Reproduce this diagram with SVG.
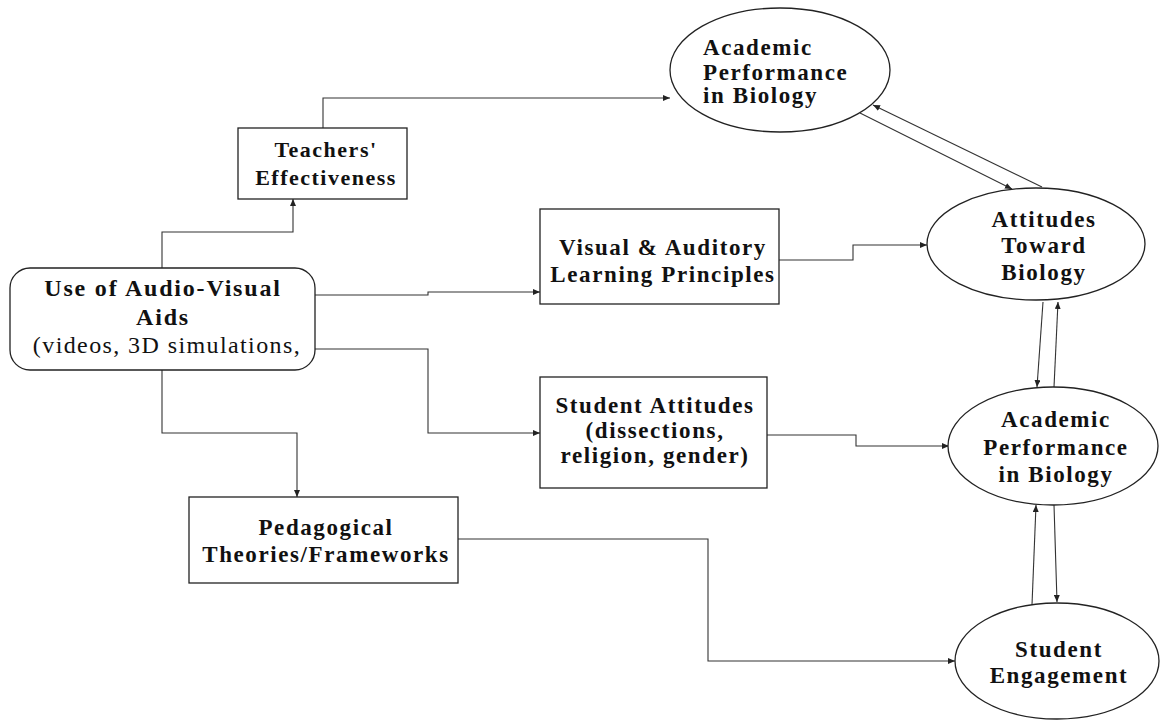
<svg xmlns="http://www.w3.org/2000/svg" width="1161" height="721" viewBox="0 0 1161 721">
<defs>
<marker id="arr" markerWidth="8" markerHeight="6" refX="7" refY="3" orient="auto" markerUnits="userSpaceOnUse">
<path d="M0,0 L7,3 L0,6 z" fill="#222"/>
</marker>
<style>
.box{fill:#fff;stroke:#222;stroke-width:1.3}
.t{font-family:"Liberation Serif","Times New Roman",serif;font-weight:bold;font-size:23px;letter-spacing:1.6px;fill:#111;text-anchor:middle}
.tl{text-anchor:start}
.sm{font-size:22px;letter-spacing:1.5px}
.big{font-size:24px;letter-spacing:1.8px}
.reg{font-weight:normal;font-size:24px;letter-spacing:1.4px}
.c{fill:none;stroke:#333;stroke-width:1.1;marker-end:url(#arr)}
</style>
</defs>
<rect width="1161" height="721" fill="#fff"/>
<g id="connectors">
<path class="c" d="M162,268 V232 H293 V199"/>
<path class="c" d="M323,128 V98 H670"/>
<path class="c" d="M315,295 H428 V292 H540"/>
<path class="c" d="M779,260 H853 V245 H927"/>
<path class="c" d="M315,349 H428 V433 H540"/>
<path class="c" d="M767,435 H856 V446 H949"/>
<path class="c" d="M162,370 V433 H297 V497"/>
<path class="c" d="M458,539 H708 V661 H955"/>
<path class="c" d="M860,113 L1012,189"/>
<path class="c" d="M1042,187 L873,105"/>
<path class="c" d="M1043,302 L1037,387"/>
<path class="c" d="M1054,387 L1058,302"/>
<path class="c" d="M1032,605 L1036,505"/>
<path class="c" d="M1054,505 L1057,602"/>
</g>
<g id="use-av">
<rect class="box" x="10" y="268" width="305" height="102" rx="20"/>
<text class="t big" x="163" y="296">Use of Audio-Visual</text>
<text class="t big" x="163" y="325">Aids</text>
<text class="t reg" x="167" y="353">(videos, 3D simulations,</text>
</g>
<g id="teachers">
<rect class="box" x="238" y="128" width="169" height="71"/>
<text class="t sm" x="326" y="157">Teachers'</text>
<text class="t sm" x="326" y="185">Effectiveness</text>
</g>
<g id="acad-top">
<ellipse class="box" cx="780" cy="70" rx="110" ry="62"/>
<text class="t tl" x="703" y="55">Academic</text>
<text class="t tl" x="703" y="80">Performance</text>
<text class="t tl" x="703" y="103">in Biology</text>
</g>
<g id="visual">
<rect class="box" x="540" y="209" width="239" height="95"/>
<text class="t" x="663" y="255">Visual &amp; Auditory</text>
<text class="t" x="663" y="282">Learning Principles</text>
</g>
<g id="attitudes">
<ellipse class="box" cx="1036" cy="244" rx="109" ry="56"/>
<text class="t" x="1044" y="227">Attitudes</text>
<text class="t" x="1044" y="253">Toward</text>
<text class="t" x="1044" y="280">Biology</text>
</g>
<g id="student-att">
<rect class="box" x="540" y="377" width="227" height="111"/>
<text class="t" x="655" y="413">Student Attitudes</text>
<text class="t" x="655" y="438">(dissections,</text>
<text class="t" x="655" y="463">religion, gender)</text>
</g>
<g id="acad-mid">
<ellipse class="box" cx="1053" cy="446" rx="105" ry="59"/>
<text class="t" x="1056" y="427">Academic</text>
<text class="t" x="1056" y="455">Performance</text>
<text class="t" x="1056" y="482">in Biology</text>
</g>
<g id="pedagogical">
<rect class="box" x="189" y="497" width="269" height="86"/>
<text class="t" x="326" y="535">Pedagogical</text>
<text class="t" x="326" y="562">Theories/Frameworks</text>
</g>
<g id="engagement">
<ellipse class="box" cx="1057" cy="661" rx="102" ry="58"/>
<text class="t" x="1059" y="657">Student</text>
<text class="t" x="1059" y="683">Engagement</text>
</g>
</svg>
